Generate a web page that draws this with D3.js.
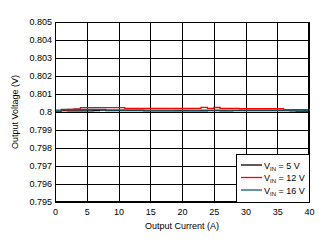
<!DOCTYPE html>
<html>
<head>
<meta charset="utf-8">
<script src="https://cdn.jsdelivr.net/npm/d3@7"></script>
<style>
  body { margin: 0; background: #fff; }
  text { font-family: "Liberation Sans", Arial, sans-serif; font-size: 9px; fill: #000; }
</style>
</head>
<body>
<svg width="329" height="243"></svg>
<script>
// output current (A), one point per amp
var current = d3.range(0, 41);

var v5 = [0.80003, 0.80008, 0.80006, 0.80006, 0.80006, 0.80006, 0.80008, 0.8001, 0.80008, 0.80008,
  0.80008, 0.80008, 0.80008, 0.80008, 0.80006, 0.80006, 0.80006, 0.80006, 0.80006, 0.80007,
  0.80007, 0.80006, 0.80006, 0.80007, 0.80008, 0.80008, 0.80007, 0.80006, 0.80008, 0.80008,
  0.80008, 0.80008, 0.80008, 0.80008, 0.80008, 0.80008, 0.80008, 0.80006, 0.80005, 0.80005, 0.80004];

var v12 = [0.80004, 0.80012, 0.80014, 0.80017, 0.80024, 0.80024, 0.80024, 0.80024, 0.80024, 0.80024,
  0.80024, 0.8002, 0.8002, 0.8002, 0.8002, 0.8002, 0.8002, 0.8002, 0.8002, 0.8002,
  0.8002, 0.8002, 0.8002, 0.80026, 0.8002, 0.80025, 0.8002, 0.8002, 0.8002, 0.80018,
  0.80018, 0.80018, 0.80018, 0.80018, 0.80018, 0.80018, 0.80013, 0.80013, 0.80013, 0.80013, 0.80007];

var v16 = [0.8001, 0.80014, 0.80015, 0.80014, 0.80014, 0.80014, 0.80014, 0.80014, 0.80011, 0.80011,
  0.80011, 0.80011, 0.80011, 0.80011, 0.8001, 0.8001, 0.8001, 0.8001, 0.8001, 0.8001,
  0.8001, 0.8001, 0.8001, 0.8001, 0.8001, 0.8001, 0.8001, 0.8001, 0.8001, 0.8001,
  0.8001, 0.8001, 0.8001, 0.8001, 0.8001, 0.8001, 0.8001, 0.80011, 0.80011, 0.80009, 0.80008];

var xTicks = [0, 5, 10, 15, 20, 25, 30, 35, 40];
var yTicks = [0.795, 0.796, 0.797, 0.798, 0.799, 0.8, 0.801, 0.802, 0.803, 0.804, 0.805];
var yLabels = ["0.795", "0.796", "0.797", "0.798", "0.799", "0.8", "0.801", "0.802", "0.803", "0.804", "0.805"];

var seriesNames = ["5 V", "12 V", "16 V"];
var seriesColors = ["#000000", "#ff0000", "#135f6e"];
var seriesData = [v5, v12, v16];

var plotL = 55, plotR = 309, plotT = 22, plotB = 202;

var svg = d3.select("svg");

var x = d3.scaleLinear().domain([0, 40]).range([plotL, plotR]);
var y = d3.scaleLinear().domain([0.795, 0.805]).range([plotB, plotT]);

// grid
svg.append("g").selectAll("line").data(xTicks).enter().append("line")
  .attr("x1", function(d) { return Math.round(x(d)) + 0.5; })
  .attr("x2", function(d) { return Math.round(x(d)) + 0.5; })
  .attr("y1", plotT).attr("y2", plotB)
  .style("stroke", "#000").style("stroke-width", 1);

svg.append("g").selectAll("line").data(yTicks).enter().append("line")
  .attr("x1", plotL).attr("x2", plotR)
  .attr("y1", function(d) { return Math.round(y(d)) + 0.5; })
  .attr("y2", function(d) { return Math.round(y(d)) + 0.5; })
  .style("stroke", "#000").style("stroke-width", 1);

// axes labels
var xAxis = d3.axisBottom(x).tickValues(xTicks).tickSize(0).tickPadding(7);
svg.append("g").attr("transform", "translate(0," + plotB + ")").call(xAxis)
  .call(function(g) { g.select(".domain").remove(); });

var yAxis = d3.axisLeft(y).tickValues(yTicks).tickSize(0).tickPadding(3)
  .tickFormat(function(d, i) { return yLabels[i]; });
svg.append("g").attr("transform", "translate(" + plotL + ",0)").call(yAxis)
  .call(function(g) { g.select(".domain").remove(); });

svg.selectAll(".tick text").style("font-family", "Liberation Sans, Arial, sans-serif").style("font-size", "9px");

// lines (step-like traces)
var line = d3.line()
  .x(function(d, i) { return x(current[i]); })
  .y(function(d) { return y(d); })
  .curve(d3.curveStepAfter);

seriesData.forEach(function(s, k) {
  svg.append("path").datum(s)
    .attr("d", line)
    .style("fill", "none")
    .style("stroke", seriesColors[k])
    .style("stroke-width", 1.3);
});

svg.append("rect").attr("x", plotL + 0.5).attr("y", plotT + 0.5)
  .attr("width", plotR - plotL - 1).attr("height", plotB - plotT - 1)
  .style("fill", "none").style("stroke", "#000").style("stroke-width", 1);

// legend
var lg = svg.append("g").attr("transform", "translate(236,154)");
lg.append("rect").attr("x", 0.5).attr("y", 0.5).attr("width", 73).attr("height", 48)
  .style("fill", "#fff").style("stroke", "#000").style("stroke-width", 1);

seriesNames.forEach(function(n, k) {
  var yy = 11 + k * 12.5;
  lg.append("line").attr("x1", 5).attr("x2", 26).attr("y1", yy).attr("y2", yy)
    .style("stroke", seriesColors[k]).style("stroke-width", 1.3);
  var t = lg.append("text").attr("x", 28).attr("y", yy + 3.5);
  t.append("tspan").text("V");
  t.append("tspan").attr("dy", 2).style("font-size", "6px").text("IN");
  t.append("tspan").attr("dy", -2).text(" = " + n);
});

// axis titles
svg.append("text").attr("x", (plotL + plotR) / 2).attr("y", 229)
  .attr("text-anchor", "middle").text("Output Current (A)");
svg.append("text").attr("transform", "translate(18," + ((plotT + plotB) / 2) + ") rotate(-90)")
  .attr("text-anchor", "middle").text("Output Voltage (V)");
</script>
</body>
</html>
